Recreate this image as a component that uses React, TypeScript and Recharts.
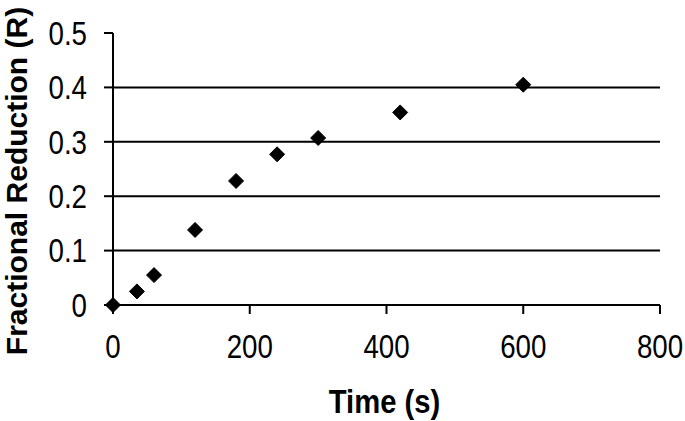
import React from "react";
import { ScatterChart, Scatter, XAxis, YAxis, ReferenceLine, Label } from "recharts";

const timeValues = [0, 35, 60, 120, 180, 240, 300, 420, 600];
const reductionValues = [0, 0.025, 0.055, 0.138, 0.228, 0.277, 0.307, 0.354, 0.405];
const xTicks = [0, 200, 400, 600, 800];
const yTicks = [0, 0.1, 0.2, 0.3, 0.4, 0.5];
const gridValues = [0.1, 0.2, 0.3, 0.4];

const data = timeValues.map((t, i) => ({ t, r: reductionValues[i] }));

const FONT = "'Liberation Sans', Arial, sans-serif";

const XTick = (props: any) => {
  const { x, y, payload } = props;
  return (
    <text
      transform={`translate(${x},${y}) scale(0.84,1)`}
      x={0}
      y={0}
      dy="0.71em"
      textAnchor="middle"
      style={{ fontFamily: FONT, fontSize: 33, fill: "#000" }}
    >
      {String(payload.value)}
    </text>
  );
};

const YTick = (props: any) => {
  const { x, y, payload } = props;
  return (
    <text
      transform={`translate(${x},${y}) scale(0.84,1)`}
      x={0}
      y={0}
      dy="0.355em"
      textAnchor="end"
      style={{ fontFamily: FONT, fontSize: 33, fill: "#000" }}
    >
      {String(payload.value)}
    </text>
  );
};

const Diamond = (props: any) => {
  const { cx, cy } = props;
  if (cx == null || cy == null) return null;
  const s = 7.5;
  return <polygon points={`${cx},${cy - s} ${cx + s},${cy} ${cx},${cy + s} ${cx - s},${cy}`} fill="#000" stroke="#000" strokeWidth={1} strokeLinejoin="round" />;
};

export default function App() {
  return (
    <div style={{ position: "absolute", left: 0, top: 0, background: "#fff" }}>
      <ScatterChart width={685} height={421} margin={{ top: 33, right: 25, bottom: 0, left: 0 }}>
        {gridValues.map((v) => (
          <ReferenceLine key={v} y={v} stroke="#000" strokeWidth={2} />
        ))}
        <XAxis
          type="number"
          dataKey="t"
          domain={[0, 800]}
          ticks={xTicks}
          height={116}
          tickSize={9}
          tickMargin={21}
          stroke="#000"
          tick={<XTick />}
          axisLine={{ stroke: "#000", strokeWidth: 2 }}
          tickLine={{ stroke: "#000", strokeWidth: 2 }}
        >
          <Label
            content={(p: any) => {
              const vb = p.viewBox || { x: 113, y: 305, width: 547, height: 116 };
              const x = vb.x + vb.width / 2 - 2;
              const y = 413;
              return (
                <text
                  transform={`translate(${x},${y}) scale(0.86,1)`}
                  x={0}
                  y={0}
                  textAnchor="middle"
                  style={{ fontFamily: FONT, fontWeight: "bold", fontSize: 34, fill: "#000" }}
                >
                  Time (s)
                </text>
              );
            }}
          />
        </XAxis>
        <YAxis
          type="number"
          dataKey="r"
          domain={[0, 0.5]}
          ticks={yTicks}
          width={113}
          tickSize={9}
          tickMargin={17}
          stroke="#000"
          tick={<YTick />}
          axisLine={{ stroke: "#000", strokeWidth: 2 }}
          tickLine={{ stroke: "#000", strokeWidth: 2 }}
        >
          <Label
            content={(p: any) => {
              const vb = p.viewBox || { x: 0, y: 33, width: 113, height: 272 };
              const x = vb.x + 27;
              const y = 181;
              return (
                <text
                  x={x}
                  y={y}
                  transform={`rotate(-90, ${x}, ${y})`}
                  textAnchor="middle"
                  style={{ fontFamily: FONT, fontWeight: "bold", fontSize: 30, fill: "#000" }}
                >
                  Fractional Reduction (R)
                </text>
              );
            }}
          />
        </YAxis>
        <Scatter data={data} shape={<Diamond />} isAnimationActive={false} />
      </ScatterChart>
    </div>
  );
}
